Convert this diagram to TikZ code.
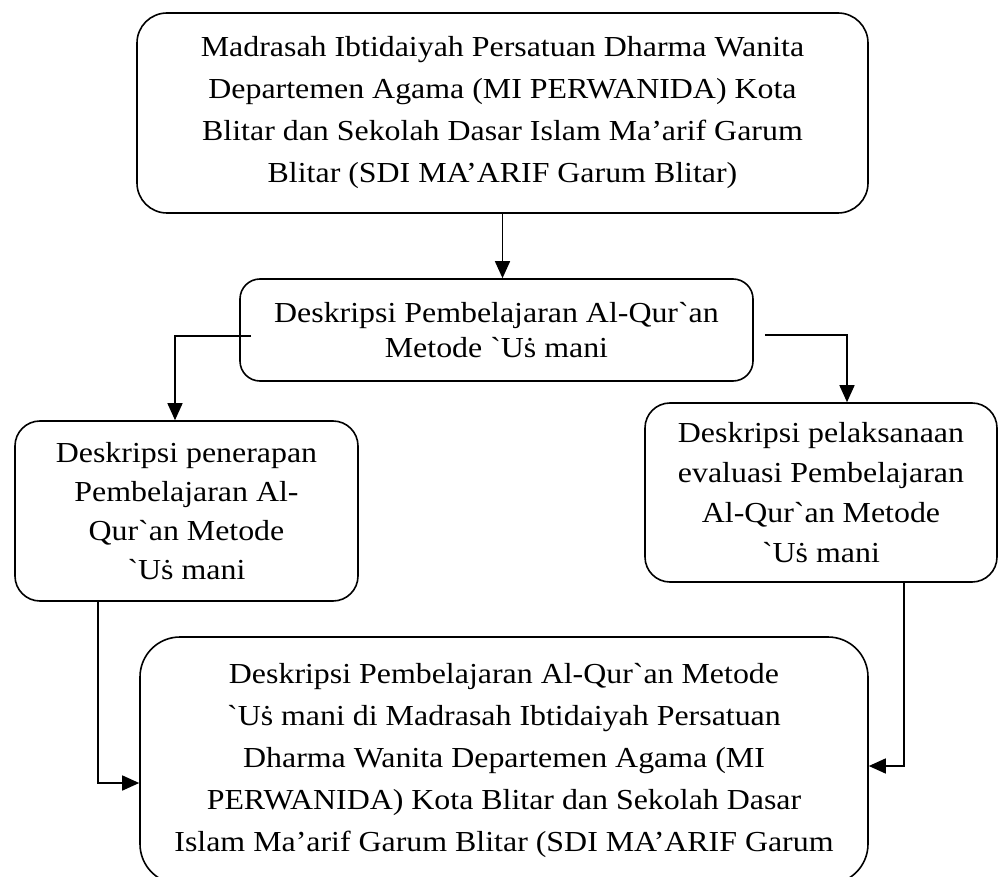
\documentclass[tikz,border=0pt]{standalone}
\usepackage{fontspec}
\setmainfont{Liberation Serif}[FakeStretch=1.1, Ligatures=TeXOff]
\usetikzlibrary{arrows.meta}
\tikzset{
  box/.style={draw, line width=1.6pt, rectangle, align=center, inner sep=0pt,
    font=\fontsize{29}{42}\selectfont},
  arr/.style={line width=1.5pt, -{Triangle[length=17pt,width=15pt]}},
}
\begin{document}
\begin{tikzpicture}[x=1pt,y=-1pt]
\useasboundingbox (0,0) rectangle (999,877);
\node[box, rounded corners=30pt, minimum width=731pt, minimum height=200pt] (top) at (502.5,113)
  {Madrasah Ibtidaiyah Persatuan Dharma Wanita\\Departemen Agama (MI PERWANIDA) Kota\\Blitar dan Sekolah Dasar Islam Ma’arif Garum\\Blitar (SDI MA’ARIF Garum Blitar)};
\node[box, rounded corners=20pt, minimum width=513pt, minimum height=102pt,
  font=\fontsize{29}{35}\selectfont] (mid) at (496.5,330)
  {Deskripsi Pembelajaran Al-Qur`an\\Metode `Uṡ mani};
\node[box, rounded corners=25pt, minimum width=343pt, minimum height=180pt,
  font=\fontsize{29}{39}\selectfont] (left) at (186.5,511)
  {Deskripsi penerapan\\Pembelajaran Al-\\Qur`an Metode\\`Uṡ mani};
\node[box, rounded corners=25pt, minimum width=352pt, minimum height=179pt,
  font=\fontsize{29}{40}\selectfont] (right) at (821,492.5)
  {Deskripsi pelaksanaan\\evaluasi Pembelajaran\\Al-Qur`an Metode\\`Uṡ mani};
\begin{scope}
\clip (0,0) rectangle (999,877);
\node[box, rounded corners=40pt, minimum width=728pt, minimum height=247pt] (bottom) at (504,760.5)
  {Deskripsi Pembelajaran Al-Qur`an Metode\\`Uṡ mani di Madrasah Ibtidaiyah Persatuan\\Dharma Wanita Departemen Agama (MI\\PERWANIDA) Kota Blitar dan Sekolah Dasar\\Islam Ma’arif Garum Blitar (SDI MA’ARIF Garum};
\end{scope}
\draw[arr] (top.south) -- (top.south |- mid.north);
\draw[arr] ([xshift=12pt,yshift=-6pt]mid.west) -| ([xshift=-11.5pt]left.north);
\draw[arr] ([xshift=11pt,yshift=-5pt]mid.east) -| ([xshift=26pt]right.north);
\draw[arr] ([xshift=-88.5pt]left.south) |- ([yshift=-22.5pt]bottom.west);
\draw[arr] ([xshift=83pt]right.south) |- ([yshift=-5.5pt]bottom.east);
\end{tikzpicture}
\end{document}
